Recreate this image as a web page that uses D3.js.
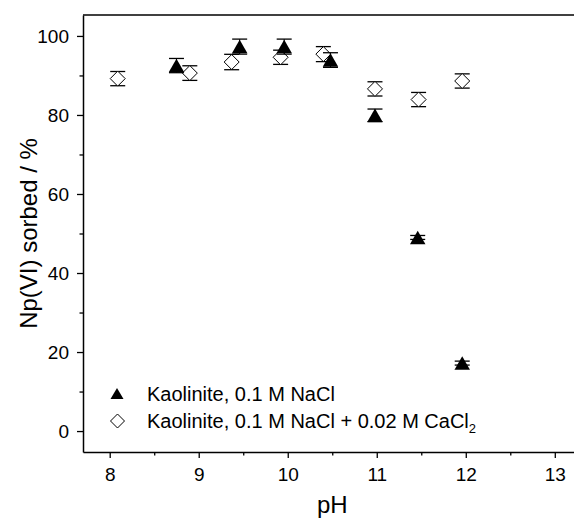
<!DOCTYPE html>
<html>
<head>
<meta charset="utf-8">
<script src="https://cdn.jsdelivr.net/npm/d3@7"></script>
<style>
  html, body { margin: 0; padding: 0; background: #fff; }
  svg { display: block; }
  text { font-family: "Liberation Sans", Arial, sans-serif; fill: #000; }
</style>
</head>
<body>
<svg id="chart" width="574" height="518"></svg>
<script>
// ---- Data ----
const naclPH   = [8.75, 9.46, 9.96, 10.48, 10.98, 11.46, 11.96];
const naclVal  = [92.5, 97.3, 97.3, 93.9, 79.9, 49.0, 17.2];
const naclErr  = [1.8, 1.9, 1.9, 1.85, 1.6, 0.5, 0.5];

const caclPH   = [8.09, 8.90, 9.37, 9.92, 10.40, 10.98, 11.47, 11.96];
const caclVal  = [89.2, 90.6, 93.4, 94.6, 95.4, 86.6, 83.9, 88.6];
const caclErr  = [1.8, 1.85, 1.95, 1.8, 1.9, 1.8, 1.8, 1.8];

const xMajorTicks = [8, 9, 10, 11, 12, 13];
const xMinorTicks = [8.5, 9.5, 10.5, 11.5, 12.5];
const yMajorTicks = [0, 20, 40, 60, 80, 100];
const yMinorTicks = [10, 30, 50, 70, 90];

const legendLabels = ["Kaolinite, 0.1 M NaCl", "Kaolinite, 0.1 M NaCl + 0.02 M CaCl"];

// ---- Layout ----
const svg = d3.select("#chart");
const mLeft = 83, mRight = 581.5, mTop = 15, mBottom = 452;

const x = d3.scaleLinear().domain([7.7, 13.3]).range([mLeft, mRight]);
const y = d3.scaleLinear().domain([-5.3, 105.3]).range([mBottom, mTop]);

const axisColor = "#000";

// Frame top / right lines
svg.append("line").attr("x1", mLeft).attr("x2", mRight).attr("y1", mTop).attr("y2", mTop)
  .attr("stroke", axisColor).attr("stroke-width", 1.5);
svg.append("line").attr("x1", mRight).attr("x2", mRight).attr("y1", mTop).attr("y2", mBottom)
  .attr("stroke", axisColor).attr("stroke-width", 1.5);

// X axis
const gx = svg.append("g").attr("transform", `translate(0,${mBottom})`);
gx.call(d3.axisBottom(x).tickValues(xMajorTicks).tickFormat(d3.format("d")).tickSize(6).tickPadding(10).tickSizeOuter(0));
gx.append("g").call(d3.axisBottom(x).tickValues(xMinorTicks).tickFormat("").tickSize(3.5).tickSizeOuter(0))
  .select(".domain").remove();

// Y axis
const gy = svg.append("g").attr("transform", `translate(${mLeft},0)`);
gy.call(d3.axisLeft(y).tickValues(yMajorTicks).tickFormat(d3.format("d")).tickSize(6).tickPadding(8).tickSizeOuter(0));
gy.append("g").call(d3.axisLeft(y).tickValues(yMinorTicks).tickFormat("").tickSize(3.5).tickSizeOuter(0))
  .select(".domain").remove();

svg.selectAll(".domain").attr("stroke", axisColor).attr("stroke-width", 1.5);
svg.selectAll(".tick line").attr("stroke", axisColor).attr("stroke-width", 1.3);
svg.selectAll(".tick text").attr("font-size", 19).attr("font-family", "Liberation Sans, Arial, sans-serif").attr("fill", "#000");

// Axis titles
svg.append("text").attr("x", (mLeft + mRight) / 2).attr("y", 513)
  .attr("text-anchor", "middle").attr("font-size", 24).text("pH");
svg.append("text")
  .attr("transform", `translate(37,${(mTop + mBottom) / 2}) rotate(-90)`)
  .attr("text-anchor", "middle").attr("font-size", 24).text("Np(VI) sorbed / %");

// ---- Markers ----
const capHalf = 7.5;
function errorBars(xs, vs, es) {
  const g = svg.append("g");
  xs.forEach((px, i) => {
    const cx = x(px), y1 = y(vs[i] + es[i]), y2 = y(vs[i] - es[i]);
    g.append("line").attr("x1", cx).attr("x2", cx).attr("y1", y1).attr("y2", y2)
      .attr("stroke", "#000").attr("stroke-width", 1);
    [y1, y2].forEach(yy => g.append("line").attr("x1", cx - capHalf).attr("x2", cx + capHalf)
      .attr("y1", yy).attr("y2", yy).attr("stroke", "#000").attr("stroke-width", 1.3));
  });
}
function diamondPath(cx, cy, r) {
  return `M${cx},${cy - r}L${cx + r},${cy}L${cx},${cy + r}L${cx - r},${cy}Z`;
}
function trianglePath(cx, cy, w, h) {
  return `M${cx},${cy - h / 2}L${cx + w / 2},${cy + h / 2}L${cx - w / 2},${cy + h / 2}Z`;
}

// Diamonds (CaCl2) first
errorBars(caclPH, caclVal, caclErr);
svg.append("g").selectAll("path").data(caclPH).join("path")
  .attr("d", (d, i) => diamondPath(x(d), y(caclVal[i]), 7.5))
  .attr("fill", "#fff").attr("stroke", "#000").attr("stroke-width", 1);

// Triangles (NaCl)
errorBars(naclPH, naclVal, naclErr);
svg.append("g").selectAll("path").data(naclPH).join("path")
  .attr("d", (d, i) => trianglePath(x(d), y(naclVal[i]), 15.5, 13.5))
  .attr("fill", "#000");

// ---- Legend ----
const lg = svg.append("g");
lg.append("path").attr("d", trianglePath(117, 393.5, 13, 11)).attr("fill", "#000");
lg.append("path").attr("d", diamondPath(117.5, 421, 7)).attr("fill", "#fff").attr("stroke", "#000").attr("stroke-width", 1);
lg.append("text").attr("x", 147).attr("y", 400.5).attr("font-size", 20).text(legendLabels[0]);
const t2 = lg.append("text").attr("x", 147).attr("y", 427.5).attr("font-size", 20);
t2.append("tspan").text(legendLabels[1]);
t2.append("tspan").attr("font-size", 13).attr("dy", 5).text("2");
</script>
</body>
</html>
